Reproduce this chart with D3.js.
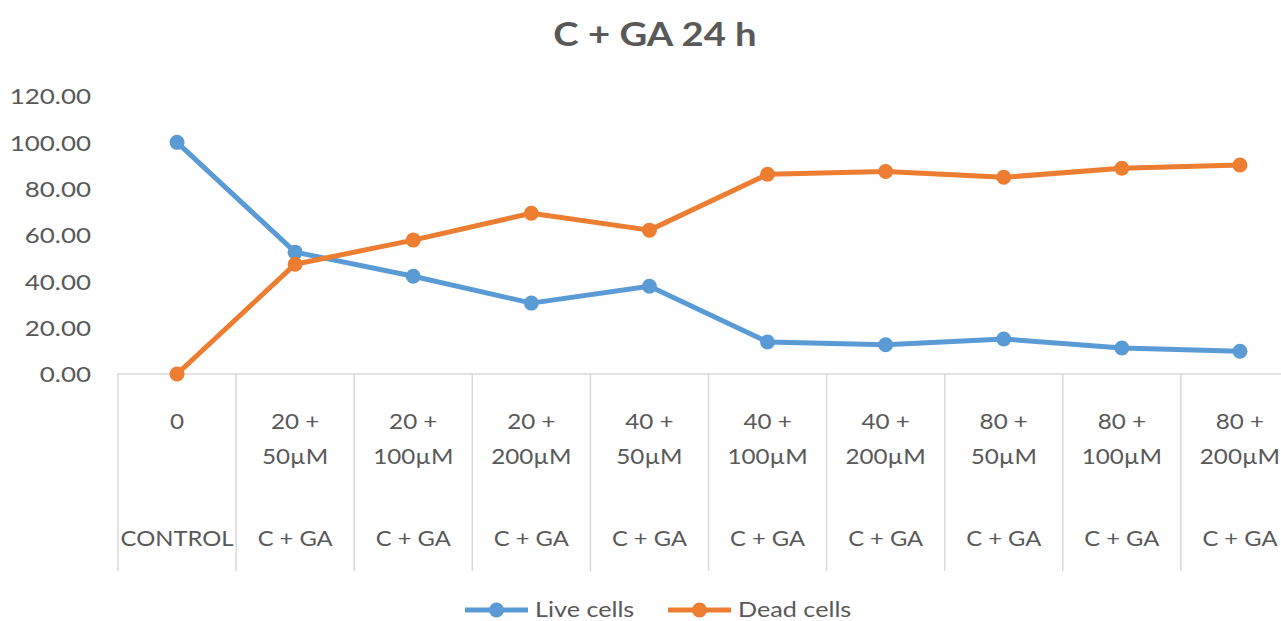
<!DOCTYPE html>
<html>
<head>
<meta charset="utf-8">
<script src="https://cdn.jsdelivr.net/npm/d3@7"></script>
<style>
  html, body { margin: 0; padding: 0; background: #fff; overflow: hidden; }
  svg { display: block; font-family: Lato, "Open Sans", sans-serif; }
</style>
</head>
<body>
<svg id="chart" width="1281" height="621"></svg>
<script>
// Treatment groups: dose line, concentration line, group name
const doses = ["0", "20 +", "20 +", "20 +", "40 +", "40 +", "40 +", "80 +", "80 +", "80 +"];
const concentrations = ["", "50µM", "100µM", "200µM", "50µM", "100µM", "200µM", "50µM", "100µM", "200µM"];
const groups = ["CONTROL", "C + GA", "C + GA", "C + GA", "C + GA", "C + GA", "C + GA", "C + GA", "C + GA", "C + GA"];

// Percent of cells after 24 h
const liveCells = [100.0, 52.6, 42.2, 30.6, 37.9, 13.8, 12.6, 15.1, 11.2, 9.8];
const deadCells = [0.0, 47.4, 57.8, 69.4, 62.1, 86.2, 87.4, 84.9, 88.8, 90.2];

const yTicks = [0, 20, 40, 60, 80, 100, 120];

const seriesNames = ["Live cells", "Dead cells"];
const seriesColors = ["#5b9bd5", "#ed7d31"];
const seriesValues = [liveCells, deadCells];

const svg = d3.select("#chart");
const textColor = "#595959";
const axisColor = "#d9d9d9";

const plotLeft = 118, plotRight = 1299, plotTop = 96, plotBottom = 374;

const x = d3.scaleBand()
  .domain(d3.range(doses.length))
  .range([plotLeft, plotRight])
  .paddingInner(0).paddingOuter(0);

const y = d3.scaleLinear().domain([0, 120]).range([plotBottom, plotTop]);

// Widened text placed at (px, py)
function placeText(sel, px, py, sx) {
  return sel.attr("x", 0).attr("y", 0)
    .attr("transform", (d, i) => `translate(${typeof px === "function" ? px(d, i) : px},${py}) scale(${sx},1)`);
}

// Title
placeText(svg.append("text"), 655, 46, 1.16)
  .attr("text-anchor", "middle")
  .attr("font-size", 33)
  .attr("font-weight", 700)
  .attr("fill", textColor)
  .text("C + GA 24 h");

// Y axis labels
const yAxis = d3.axisLeft(y).tickValues(yTicks).tickFormat(d3.format(".2f")).tickSize(0).tickPadding(0);
const yg = svg.append("g").attr("transform", `translate(91,0)`).call(yAxis);
yg.select(".domain").remove();
yg.selectAll("text")
  .attr("font-size", 22)
  .attr("font-family", "Lato, 'Open Sans', sans-serif")
  .attr("fill", textColor)
  .attr("x", 0)
  .attr("dy", "0.36em")
  .attr("transform", "scale(1.18,1)");

// Category axis line and separators
svg.append("line")
  .attr("x1", plotLeft).attr("x2", plotRight)
  .attr("y1", plotBottom).attr("y2", plotBottom)
  .attr("stroke", axisColor).attr("stroke-width", 1.5);

const boundaries = d3.range(doses.length + 1).map(i => i < doses.length ? x(i) : x.range()[1]);
svg.append("g").selectAll("line").data(boundaries).join("line")
  .attr("x1", d => d).attr("x2", d => d)
  .attr("y1", plotBottom).attr("y2", 571)
  .attr("stroke", axisColor).attr("stroke-width", 1.5);

// Category labels
const cx = i => x(i) + x.bandwidth() / 2;
const labels = svg.append("g")
  .attr("font-size", 22)
  .attr("fill", textColor)
  .attr("text-anchor", "middle");
placeText(labels.selectAll("text.dose").data(doses).join("text").attr("class", "dose"),
  (d, i) => cx(i), 429, 1.1).text(d => d);
placeText(labels.selectAll("text.conc").data(concentrations).join("text").attr("class", "conc"),
  (d, i) => cx(i), 464, 1.1).text(d => d);
placeText(labels.selectAll("text.group").data(groups).join("text").attr("class", "group"),
  (d, i) => cx(i), 546, 1.0)
  .attr("textLength", (d, i) => i === 0 ? 113 : 75)
  .attr("lengthAdjust", "spacingAndGlyphs")
  .text(d => d);

// Series lines and markers
const line = d3.line().x((d, i) => cx(i)).y(d => y(d));
seriesValues.forEach((vals, s) => {
  svg.append("path")
    .datum(vals)
    .attr("d", line)
    .attr("fill", "none")
    .attr("stroke", seriesColors[s])
    .attr("stroke-width", 5)
    .attr("stroke-linejoin", "round")
    .attr("stroke-linecap", "round");
  svg.append("g").selectAll("circle").data(vals).join("circle")
    .attr("cx", (d, i) => cx(i))
    .attr("cy", d => y(d))
    .attr("r", 7.5)
    .attr("fill", seriesColors[s]);
});

// Legend
const legendItems = [{ x: 465 }, { x: 668 }];
legendItems.forEach((item, s) => {
  const g = svg.append("g").attr("transform", `translate(${item.x},610)`);
  g.append("line").attr("x1", 0).attr("x2", 63).attr("y1", 0).attr("y2", 0)
    .attr("stroke", seriesColors[s]).attr("stroke-width", 5);
  g.append("circle").attr("cx", 31.5).attr("cy", 0).attr("r", 7.5).attr("fill", seriesColors[s]);
  placeText(g.append("text"), 70, 6.5, 1.2)
    .attr("font-size", 21).attr("fill", textColor)
    .text(seriesNames[s]);
});
</script>
</body>
</html>
